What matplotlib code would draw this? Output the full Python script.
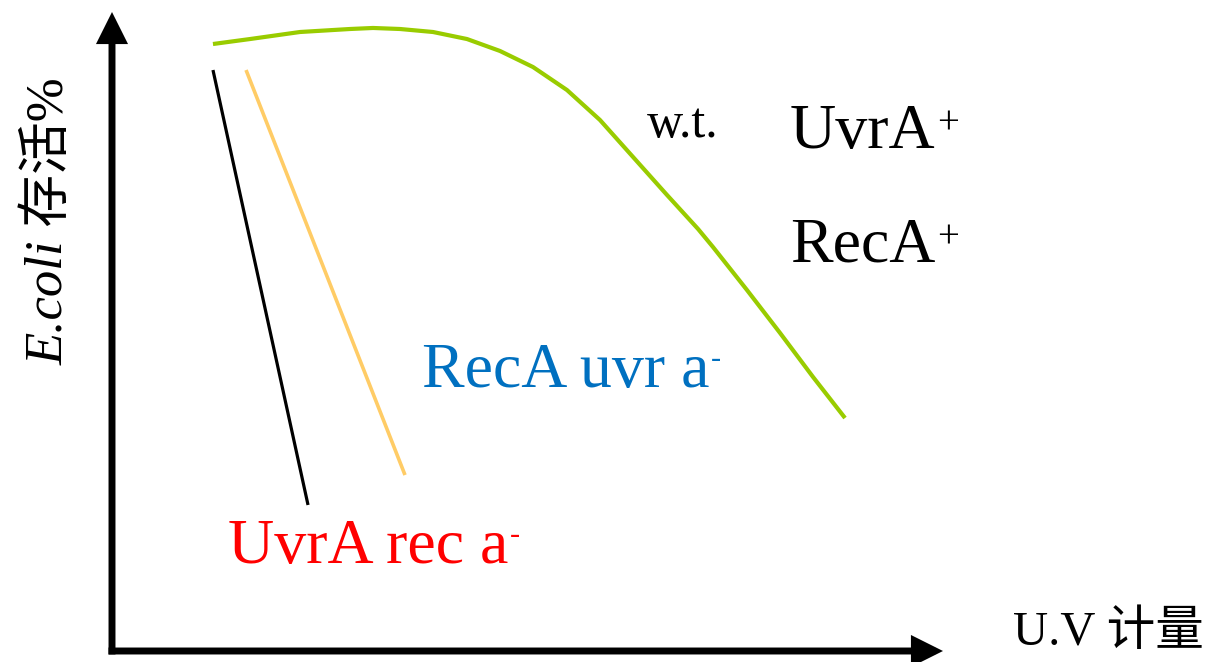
import numpy as np
import matplotlib.pyplot as plt

plt.rcParams['font.family'] = ['Liberation Serif', 'Noto Sans CJK SC']

# survival curves (dose 0-100, survival 0-100)
wt_dose = [12.15, 16.61, 22.62, 28.64, 31.41, 34.66, 38.63, 42.72, 46.69, 50.66,
           54.75, 58.72, 62.70, 66.79, 70.52, 72.32, 76.41, 80.39, 84.36, 88.21]
wt_surv = [94.99, 95.77, 96.87, 97.34, 97.50, 97.34, 96.87, 95.77, 93.90, 91.39,
           87.79, 83.10, 77.31, 71.36, 66.05, 63.22, 56.49, 49.77, 42.88, 36.46]
uvra_dose = [12.15, 23.59]
uvra_surv = [90.92, 22.85]
reca_dose = [16.13, 35.26]
reca_surv = [90.92, 27.54]

fig = plt.figure(figsize=(12.3, 6.62), dpi=100)
ax = fig.add_axes([112 / 1230, 11 / 662, 831 / 1230, 639 / 662])
ax.set_xlim(0, 100)
ax.set_ylim(0, 100)
ax.axis('off')

ax.plot(wt_dose, wt_surv, color='#99CC00', lw=3.0, solid_capstyle='butt',
        solid_joinstyle='round')
ax.plot(uvra_dose, uvra_surv, color='black', lw=2.3, solid_capstyle='butt')
ax.plot(reca_dose, reca_surv, color='#FFCC66', lw=2.6, solid_capstyle='butt')

# axes with arrows
arrow = dict(arrowstyle='-|>,head_length=0.6,head_width=0.3', lw=5,
             color='black', shrinkA=0, shrinkB=0, mutation_scale=25,
             capstyle='butt', joinstyle='miter')
ax.annotate('', xy=(0, 1), xytext=(0, -0.0054), xycoords='axes fraction',
            arrowprops=arrow, annotation_clip=False)
ax.annotate('', xy=(1, 0), xytext=(-0.0042, 0), xycoords='axes fraction',
            arrowprops=arrow, annotation_clip=False)


def label(x, y, s, size, color='black', sup=None, sup_size=28, sup_up=17):
    t = ax.text(x, y, s, fontsize=size, color=color, ha='left', va='baseline')
    if sup:
        ax.annotate(sup, xy=(1, y), xycoords=(t, 'data'), xytext=(1, sup_up),
                    textcoords='offset points', fontsize=sup_size,
                    color=color, ha='left', va='center')
    return t


label(64.38, 80.44, 'w.t.', 36)
label(81.59, 78.72, 'UvrA', 46, sup='+')
label(81.59, 60.88, 'RecA', 46, sup='+')
label(37.30, 41.31, 'RecA uvr a', 46, color='#0070C0', sup='-',
      sup_size=22, sup_up=20)
label(13.96, 13.77, 'UvrA rec a', 46, color='#FF0000', sup='-',
      sup_size=22, sup_up=20)
ax.text(108.42, 0.94, 'U.V 计量', fontsize=35, ha='left', va='baseline')

t1 = ax.text(-6.02, 44.76, 'E.coli', fontsize=38, style='italic', rotation=90,
             rotation_mode='anchor', ha='left', va='baseline')
ax.annotate(' 存活%', xy=(0, 1), xycoords=t1, fontsize=38, rotation=90,
            ha='left', va='bottom')

fig.savefig('out.png', dpi=100)
